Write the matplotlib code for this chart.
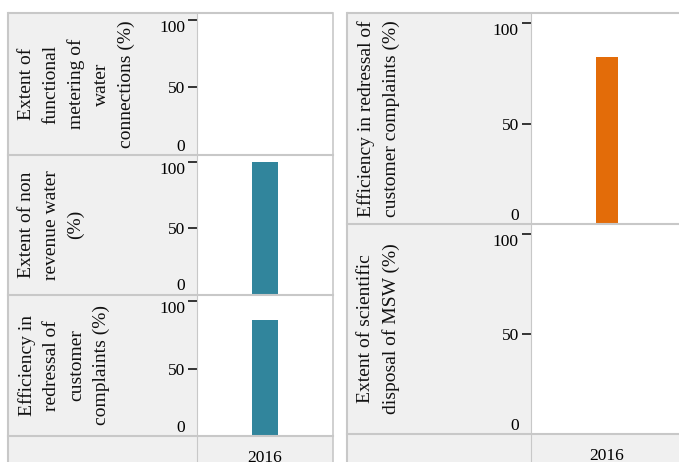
import matplotlib
matplotlib.use("Agg")
import matplotlib.pyplot as plt
from matplotlib.patches import Rectangle
import numpy as np

# ---- data ----
year = "2016"
left_labels = [
    "Extent of\nfunctional\nmetering of\nwater\nconnections (%)",
    "Extent of non\nrevenue water\n(%)",
    "Efficiency in\nredressal of\ncustomer\ncomplaints (%)",
]
left_values = [np.nan, 100, 86]
right_labels = [
    "Efficiency in redressal of\ncustomer complaints (%)",
    "Extent of scientific\ndisposal of MSW (%)",
]
right_values = [83, np.nan]
y_ticks = [0, 50, 100]
teal = "#31859C"
orange = "#E36C09"

plt.rcParams['font.family'] = ['Liberation Serif', 'DejaVu Serif']

W, H = 679, 462
fig = plt.figure(figsize=(W / 100, H / 100), dpi=100)

def add_ax(x0, y0, x1, y1, **kw):
    return fig.add_axes([x0 / W, 1 - y1 / H, (x1 - x0) / W, (y1 - y0) / H], **kw)

bg = add_ax(0, 0, W, H, zorder=0)
bg.set_xlim(0, W); bg.set_ylim(H, 0); bg.axis('off')
ov = add_ax(0, 0, W, H, zorder=5)
ov.set_xlim(0, W); ov.set_ylim(H, 0); ov.axis('off'); ov.patch.set_alpha(0)

grid_c = "#c8c8c8"
cell_c = "#f0f0f0"

panels = [
    dict(x0=8, xl=197, x1=333, rows=[13, 155, 294.5, 436],
         labels=left_labels, values=left_values, color=teal, bw=0.189),
    dict(x0=347, xl=530.5, x1=683, rows=[13, 224, 434],
         labels=right_labels, values=right_values, color=orange, bw=0.142),
]

for p in panels:
    x0, xl, x1, rows = p['x0'], p['xl'], p['x1'], p['rows']
    bg.add_patch(Rectangle((x0, rows[0]), x1 - x0, H + 10 - rows[0],
                           facecolor=cell_c, edgecolor='none'))
    # borders
    ov.plot([x0, x1], [rows[0], rows[0]], color=grid_c, lw=1.5, solid_capstyle='butt')
    ov.plot([x0, x0], [rows[0], H + 5], color=grid_c, lw=1.5)
    ov.plot([x1, x1], [rows[0], H + 5], color=grid_c, lw=1.2)
    ov.plot([xl, xl], [rows[0], H + 5], color=grid_c, lw=0.8)
    for r in rows[1:]:
        ov.plot([x0, x1], [r, r], color=grid_c, lw=1.5)
    n = len(p['labels'])
    for i in range(n):
        ya, yb = rows[i], rows[i + 1]
        ax = add_ax(xl, ya, x1, yb, zorder=2)
        ax.set_facecolor('white')
        for s in ax.spines.values():
            s.set_visible(False)
        ax.set_xlim(-0.5, 0.5)
        ax.set_ylim(0, 105)
        v = p['values'][i]
        if not np.isnan(v):
            ax.bar([0], [v], width=p['bw'], color=p['color'])
        ax.set_yticks(y_ticks)
        ax.set_yticklabels([str(t) for t in y_ticks])
        ax.tick_params(axis='y', direction='out', length=6.5, width=1.1,
                       color='black', pad=2, labelsize=12.5)
        tl = ax.get_yticklabels()
        tl[0].set_va('bottom')
        tl[-1].set_va('top')
        if i == n - 1:
            ax.set_xticks([0])
            ax.set_xticklabels([year])
            ax.tick_params(axis='x', length=0, pad=10, labelsize=12.5)
        else:
            ax.set_xticks([])
        # row label
        fig.text((x0 + 10) / W, 1 - ((ya + yb) / 2) / H, p['labels'][i],
                 rotation=90, ha='left', va='center', multialignment='center',
                 fontsize=14, linespacing=1.58, color='#111111')

fig.savefig("out.png", dpi=100)
